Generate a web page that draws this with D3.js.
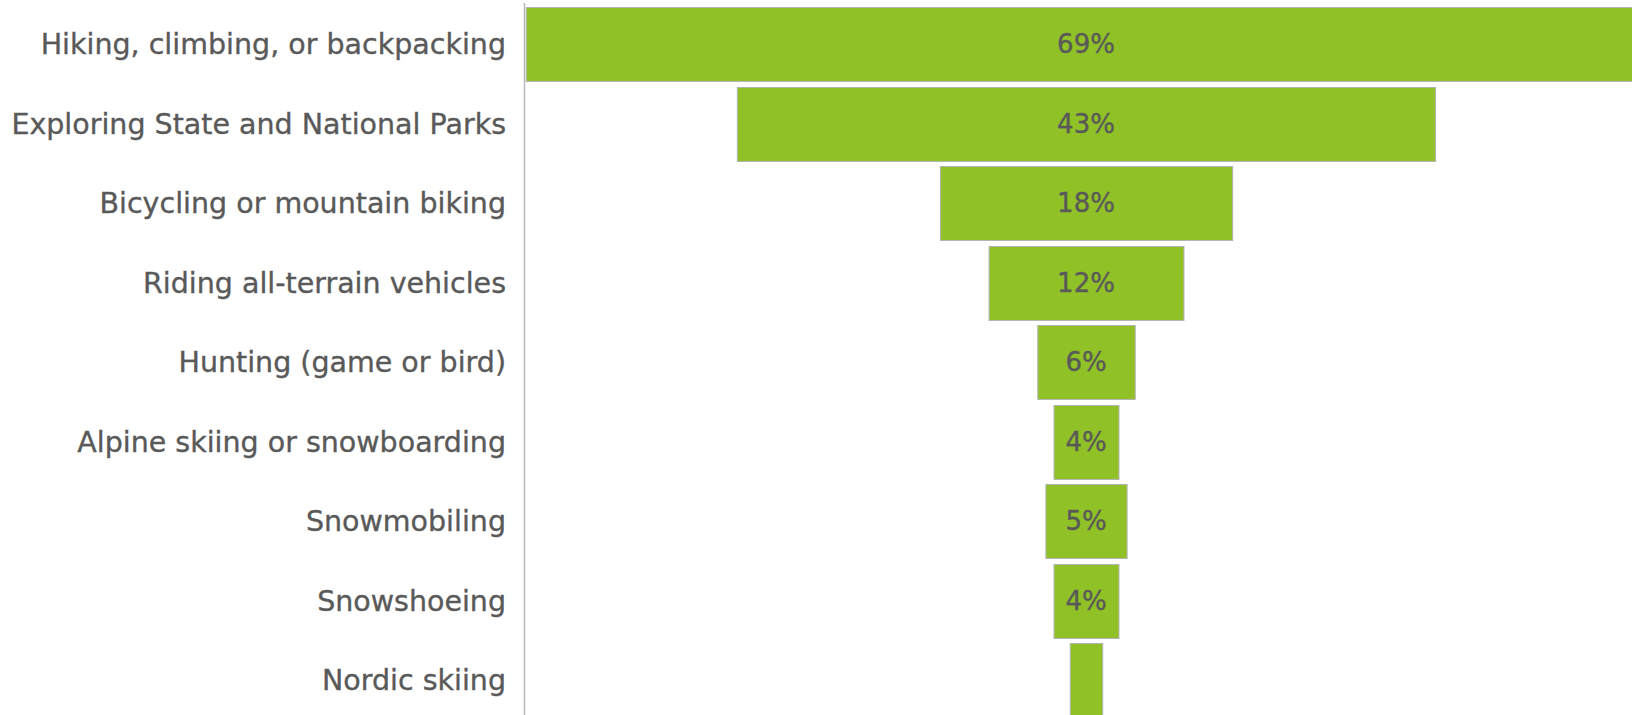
<!DOCTYPE html>
<html>
<head>
<meta charset="utf-8">
<script src="https://cdn.jsdelivr.net/npm/d3@7"></script>
<style>
  html, body { margin: 0; padding: 0; background: #fff; }
  svg { display: block; }
</style>
</head>
<body>
<script>
// Share of respondents taking part in each outdoor activity (%)
const activities = [
  "Hiking, climbing, or backpacking",
  "Exploring State and National Parks",
  "Bicycling or mountain biking",
  "Riding all-terrain vehicles",
  "Hunting (game or bird)",
  "Alpine skiing or snowboarding",
  "Snowmobiling",
  "Snowshoeing",
  "Nordic skiing"
];
const shares = [69, 43, 18, 12, 6, 4, 5, 4, 2];
const shareLabels = ["69%", "43%", "18%", "12%", "6%", "4%", "5%", "4%", ""];

const W = 1632, H = 715;
const centerX = 1086, pxPerUnit = 16.24;
const axisX = 524;
const FONT = "'DejaVu Sans', sans-serif";

const svg = d3.select("body").append("svg")
  .attr("width", W).attr("height", H);

// centred funnel scale: each bar spans -v/2 .. +v/2
const x = d3.scaleLinear()
  .domain([-50, 50])
  .range([centerX - 50 * pxPerUnit, centerX + 50 * pxPerUnit]);

const y = d3.scaleBand()
  .domain(activities)
  .range([4.25, 4.25 + 9 * 79.5])
  .paddingInner(0.07)
  .paddingOuter(0.035);

const rows = activities.map((a, i) => ({ name: a, value: shares[i], label: shareLabels[i] }));

svg.append("g").selectAll("rect")
  .data(rows)
  .join("rect")
  .attr("x", d => x(-d.value / 2) + 0.5)
  .attr("y", d => Math.round(y(d.name)) + 0.5)
  .attr("width", d => x(d.value / 2) - x(-d.value / 2))
  .attr("height", y.bandwidth())
  .attr("fill", "#90c126")
  .attr("stroke", "#b3b3b3")
  .attr("stroke-width", 1);

// category axis on the left
const yAxis = d3.axisLeft(y).tickSize(0).tickPadding(18);
const ag = svg.append("g")
  .attr("transform", `translate(${axisX},0)`)
  .call(yAxis);
ag.select(".domain").remove();
ag.append("line")
  .attr("x1", 0.5).attr("x2", 0.5)
  .attr("y1", 3).attr("y2", H)
  .attr("stroke", "#b8b8b8").attr("stroke-width", 1.5);
ag.selectAll("text")
  .attr("font-family", FONT)
  .attr("font-size", 28.5)
  .attr("fill", "#595959")
  .attr("stroke", "#595959")
  .attr("stroke-width", 0.35)
  .attr("dy", "0.36em");

// value labels centred in each bar
svg.append("g").selectAll("text")
  .data(rows)
  .join("text")
  .attr("x", centerX)
  .attr("y", d => y(d.name) + y.bandwidth() / 2)
  .attr("dy", "0.36em")
  .attr("text-anchor", "middle")
  .attr("font-family", FONT)
  .attr("font-size", 26)
  .attr("fill", "#595959")
  .attr("stroke", "#595959")
  .attr("stroke-width", 0.35)
  .text(d => d.label);
</script>
</body>
</html>
